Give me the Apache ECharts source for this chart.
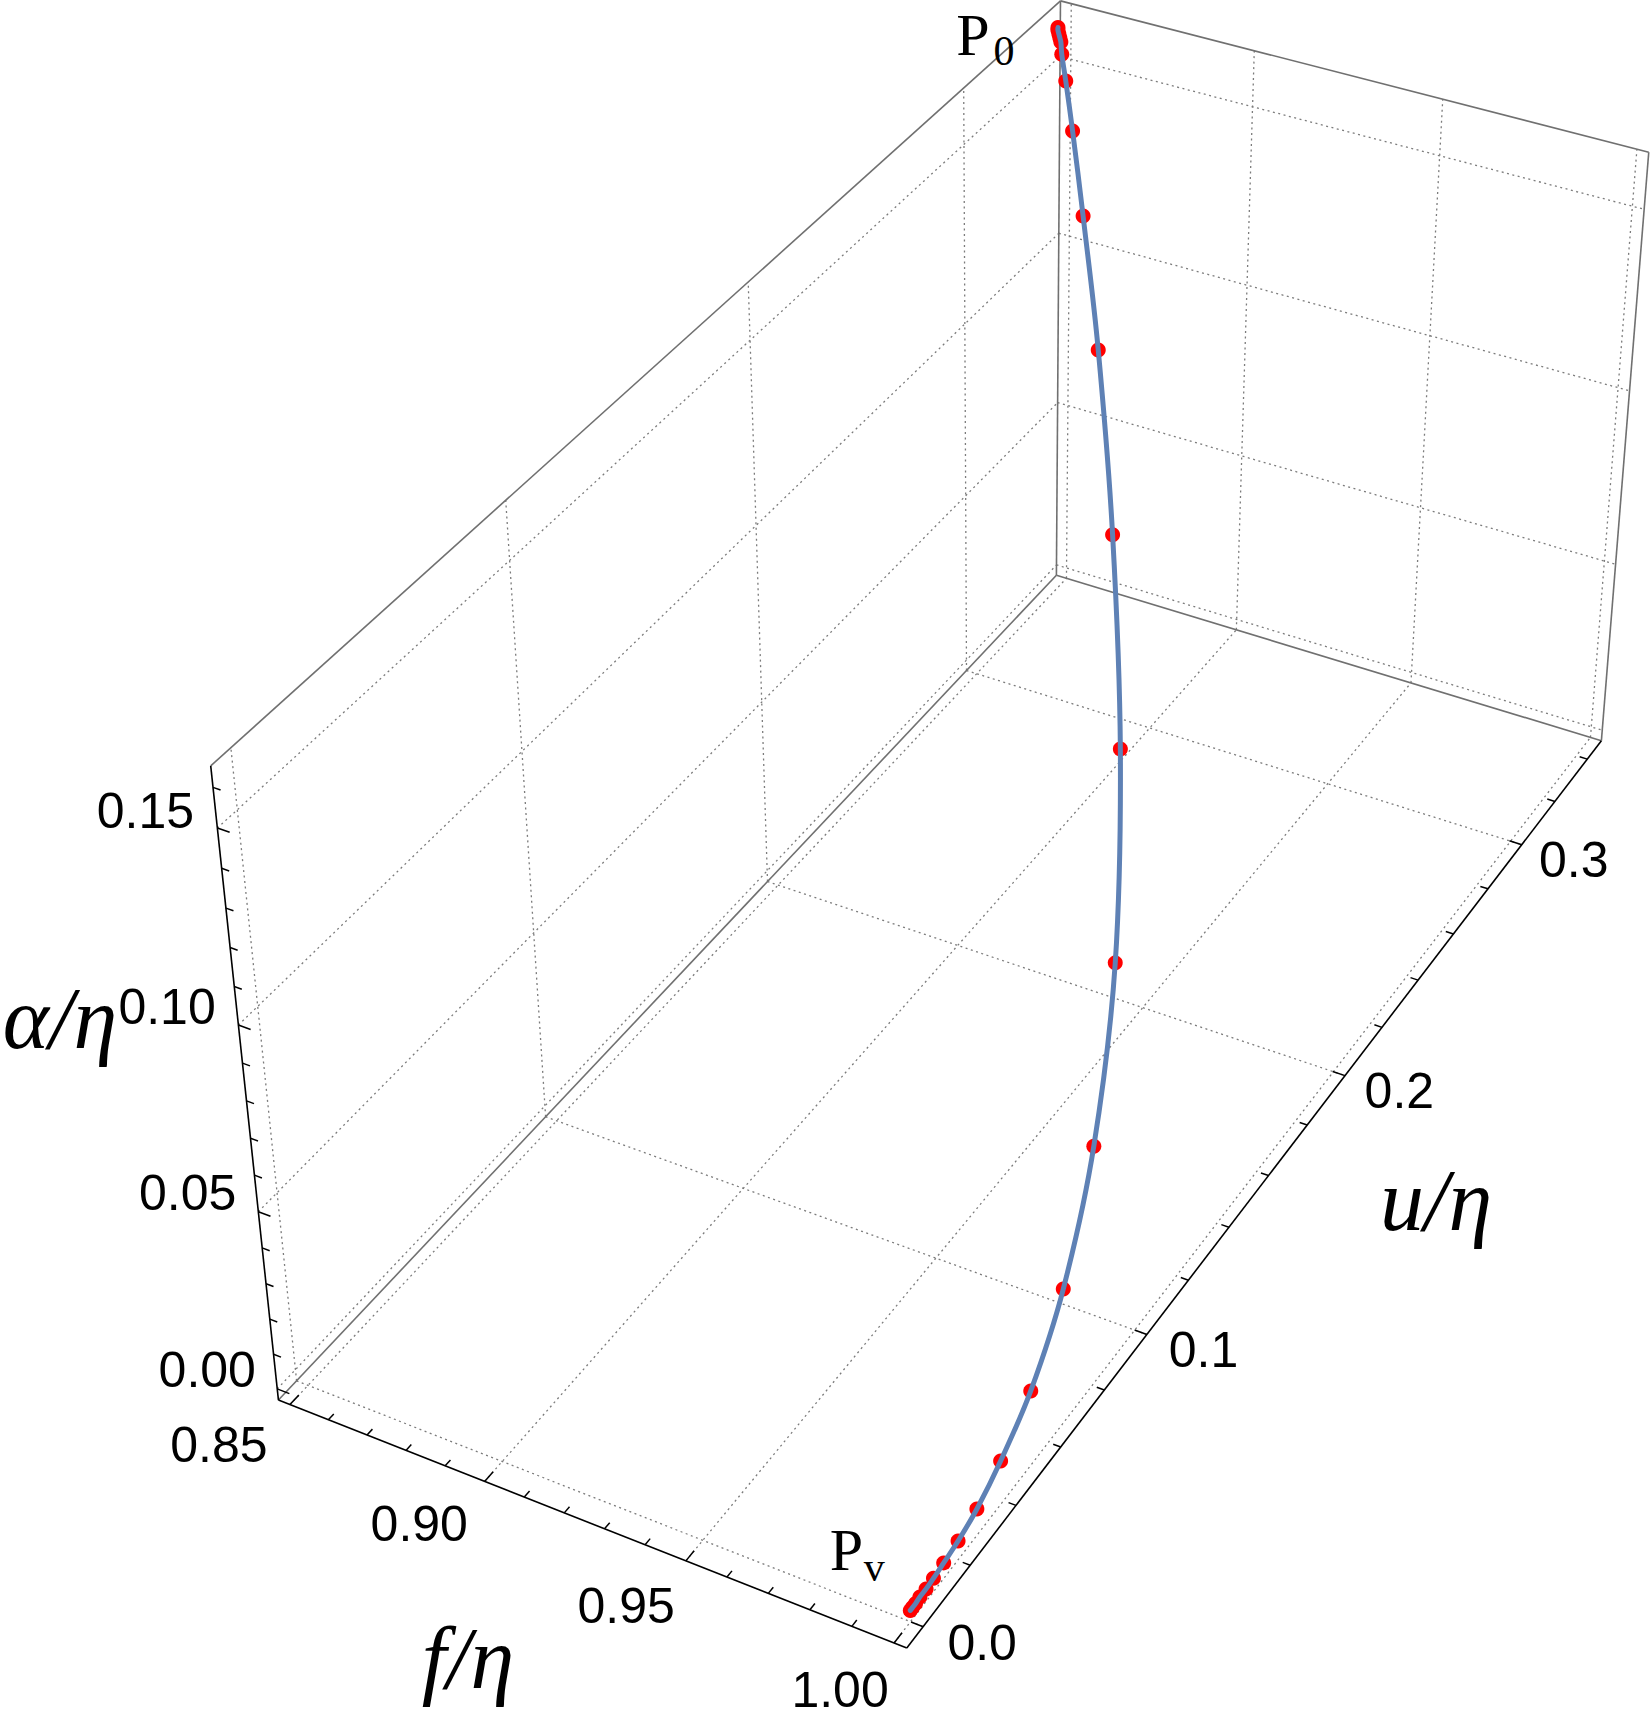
<!DOCTYPE html>
<html>
<head>
<meta charset="utf-8">
<script src="https://cdn.jsdelivr.net/npm/echarts@6.0.0/dist/echarts.min.js"></script>
<style>
html,body{margin:0;padding:0;background:#ffffff;}
#chart{width:1650px;height:1719px;}
</style>
</head>
<body>
<div id="chart"></div>
<script>
// ---------------- data ----------------
const fRange = [0.85, 1.00];
const uRange = [0.00, 0.342];
const aRange = [0.00, 0.162];
const fTicks = [0.85, 0.90, 0.95, 1.00];
const fTickLabels = ['0.85', '0.90', '0.95', '1.00'];
const fMinorTicks = [0.86,0.87,0.88,0.89,0.91,0.92,0.93,0.94,0.96,0.97,0.98,0.99];
const uTicks = [0.0, 0.1, 0.2, 0.3];
const uTickLabels = ['0.0', '0.1', '0.2', '0.3'];
const uMinorTicks = [0.02,0.04,0.06,0.08,0.12,0.14,0.16,0.18,0.22,0.24,0.26,0.28,0.32,0.34];
const aTicks = [0.00, 0.05, 0.10, 0.15];
const aTickLabels = ['0.00', '0.05', '0.10', '0.15'];
const aMinorTicks = [0.01,0.02,0.03,0.04,0.06,0.07,0.08,0.09,0.11,0.12,0.13,0.14,0.16];

// trajectory samples from P0 to Pv  (f/η, u/η, α/η)
const curveF = [0.8500,0.8503,0.8509,0.8515,0.8521,0.8537,0.8574,0.8642,0.8756,0.8930,0.9157,0.9401,0.9620,0.9779,0.9882,0.9940,0.9970,0.9986,0.9993,0.9996,0.9998,0.9999,0.9999,1.0000,1.0000,1.0000];
const curveU = [0.3420,0.3414,0.3408,0.3402,0.3396,0.3371,0.3323,0.3232,0.3074,0.2827,0.2475,0.2056,0.1620,0.1220,0.0886,0.0631,0.0442,0.0309,0.0215,0.0148,0.0101,0.0068,0.0042,0.0022,0.0009,0.0000];
const curveA = [0.1620,0.1617,0.1610,0.1604,0.1597,0.1580,0.1540,0.1466,0.1344,0.1155,0.0910,0.0647,0.0411,0.0238,0.0127,0.0064,0.0033,0.0015,0.0007,0.0004,0.0002,0.0001,0.0001,0.0000,0.0000,0.0000];

// ---------------- layout ----------------
const W = 1650, H = 1719, PAD = 0.02;
// camera calibration: box-normalized corner -> screen position
const boxCal = [[0,0,0,278,1400],[1,0,0,907,1648],[0,1,0,1057,575],[1,1,0,1601,741],[0,0,1,211,766],[0,1,1,1060,1],[1,1,1,1649,152]];
const MAJ = 13, MIN = 8;
const F_OFF = [[-71,40],[-54,47]];
const U_OFF = [[59,16],[52,15]];
const A_OFF = [[-70,-19],[-72,-17]];

const padR = r => [r[0]-PAD*(r[1]-r[0]), r[1]+PAD*(r[1]-r[0])];
const FB = padR(fRange), UB = padR(uRange), AB = padR(aRange);

function solveLinear(M, b){
  const n=b.length, A=M.map((r,i)=>r.slice().concat([b[i]]));
  for(let c=0;c<n;c++){
    let p=c; for(let r=c+1;r<n;r++) if(Math.abs(A[r][c])>Math.abs(A[p][c])) p=r;
    const t=A[c]; A[c]=A[p]; A[p]=t;
    for(let r=0;r<n;r++){ if(r===c) continue; const k=A[r][c]/A[c][c]; for(let j=c;j<=n;j++) A[r][j]-=k*A[c][j]; }
  }
  return A.map((r,i)=>r[n]/r[i]);
}
function fitCamera(cal){
  const R=[], r=[];
  cal.forEach(c=>{ const X=c[0],Y=c[1],Z=c[2],x=c[3]/1000,y=c[4]/1000;
    R.push([X,Y,Z,1,0,0,0,0,-x*X,-x*Y,-x*Z]); r.push(x);
    R.push([0,0,0,0,X,Y,Z,1,-y*X,-y*Y,-y*Z]); r.push(y); });
  const n=11, N=[], b=[];
  for(let i=0;i<n;i++){ N.push(new Array(n).fill(0)); b.push(0); }
  for(let k=0;k<R.length;k++) for(let i=0;i<n;i++){ b[i]+=R[k][i]*r[k]; for(let j=0;j<n;j++) N[i][j]+=R[k][i]*R[k][j]; }
  const p=solveLinear(N,b);
  return [[p[0],p[1],p[2],p[3]],[p[4],p[5],p[6],p[7]],[p[8],p[9],p[10],1]];
}
const CAM = fitCamera(boxCal);
function norm3(f,u,a){ return [(f-FB[0])/(FB[1]-FB[0]),(u-UB[0])/(UB[1]-UB[0]),(a-AB[0])/(AB[1]-AB[0])]; }
function projN(X,Y,Z){ const C=CAM; const w=C[2][0]*X+C[2][1]*Y+C[2][2]*Z+C[2][3];
  return [1000*(C[0][0]*X+C[0][1]*Y+C[0][2]*Z+C[0][3])/w, 1000*(C[1][0]*X+C[1][1]*Y+C[1][2]*Z+C[1][3])/w]; }
function proj(f,u,a){ const n=norm3(f,u,a); return projN(n[0],n[1],n[2]); }

// ---------------- rendering ----------------
const lerp=(a,b,t)=>[a[0]+(b[0]-a[0])*t, a[1]+(b[1]-a[1])*t];
function renderFrame(params, api){
  const ch=[];
  const P=(f,u,a)=>api.coord(proj(f,u,a));
  const seg=(p,q,style)=>ch.push({type:'line',shape:{x1:p[0],y1:p[1],x2:q[0],y2:q[1]},style:style});
  const gridStyle={stroke:'#7c7c7c',lineWidth:1.3,lineDash:[2,3.5]};
  uTicks.forEach(v=>seg(P(FB[0],v,AB[0]),P(FB[0],v,AB[1]),gridStyle));
  aTicks.forEach(v=>seg(P(FB[0],UB[0],v),P(FB[0],UB[1],v),gridStyle));
  fTicks.forEach(v=>seg(P(v,UB[1],AB[0]),P(v,UB[1],AB[1]),gridStyle));
  aTicks.forEach(v=>seg(P(FB[0],UB[1],v),P(FB[1],UB[1],v),gridStyle));
  fTicks.forEach(v=>seg(P(v,UB[0],AB[0]),P(v,UB[1],AB[0]),gridStyle));
  uTicks.forEach(v=>seg(P(FB[0],v,AB[0]),P(FB[1],v,AB[0]),gridStyle));
  const c=(i,j,k)=>P(FB[i],UB[j],AB[k]);
  const boxStyle={stroke:'#707070',lineWidth:1.6};
  [[c(0,0,0),c(0,1,0)],[c(0,1,0),c(1,1,0)],[c(0,1,0),c(0,1,1)],[c(0,0,1),c(0,1,1)],[c(0,1,1),c(1,1,1)],[c(1,1,1),c(1,1,0)]]
    .forEach(e=>seg(e[0],e[1],boxStyle));
  const axStyle={stroke:'#000000',lineWidth:1.6};
  seg(c(0,0,0),c(1,0,0),axStyle); seg(c(1,0,0),c(1,1,0),axStyle); seg(c(0,0,0),c(0,0,1),axStyle);
  const tick=(base,dirPt,len)=>{ const dx=dirPt[0]-base[0], dy=dirPt[1]-base[1], d=Math.hypot(dx,dy);
    seg(base,[base[0]+dx/d*len, base[1]+dy/d*len],{stroke:'#000',lineWidth:1.5}); };
  const du=0.01*(UB[1]-UB[0]), dF=0.01*(FB[1]-FB[0]);
  fTicks.forEach(v=>tick(P(v,UB[0],AB[0]),P(v,UB[0]+du,AB[0]),MAJ));
  fMinorTicks.forEach(v=>tick(P(v,UB[0],AB[0]),P(v,UB[0]+du,AB[0]),MIN));
  uTicks.forEach(v=>tick(P(FB[1],v,AB[0]),P(FB[1]-dF,v,AB[0]),MAJ));
  uMinorTicks.forEach(v=>tick(P(FB[1],v,AB[0]),P(FB[1]-dF,v,AB[0]),MIN));
  aTicks.forEach(v=>tick(P(FB[0],UB[0],v),P(FB[0]+dF,UB[0],v),MAJ));
  aMinorTicks.forEach(v=>tick(P(FB[0],UB[0],v),P(FB[0]+dF,UB[0],v),MIN));
  const tickFont='50px "Liberation Sans", Arial, sans-serif';
  const lab=(pt,text,off)=>ch.push({type:'text',x:pt[0]+off[0],y:pt[1]+off[1],
    style:{text:text,font:tickFont,fill:'#000',align:'center',verticalAlign:'middle'}});
  fTicks.forEach((v,i)=>lab(P(v,UB[0],AB[0]),fTickLabels[i],lerp(F_OFF[0],F_OFF[1],(v-fRange[0])/(fRange[1]-fRange[0]))));
  uTicks.forEach((v,i)=>lab(P(FB[1],v,AB[0]),uTickLabels[i],lerp(U_OFF[0],U_OFF[1],(v-uTicks[0])/(uTicks[3]-uTicks[0]))));
  aTicks.forEach((v,i)=>lab(P(FB[0],UB[0],v),aTickLabels[i],lerp(A_OFF[0],A_OFF[1],(v-aTicks[0])/(aTicks[3]-aTicks[0]))));
  const titleFont='italic 88px "Liberation Serif", "Times New Roman", serif';
  const title=(x,y,t)=>{ const q=api.coord([x,y]); ch.push({type:'text',x:q[0],y:q[1],
    style:{text:t,font:titleFont,fill:'#000',align:'center',verticalAlign:'middle'}}); };
  title(60,1018,'α/η'); title(468,1658,'f/η'); title(1436,1200,'u/η');
  return {type:'group',children:ch};
}
function renderPoint(params, api){
  const q=api.coord(proj(api.value(0),api.value(1),api.value(2)));
  return {type:'circle',shape:{cx:q[0],cy:q[1],r:7.5},style:{fill:'#ff0000'}};
}
function renderCurve(params, api){
  const pts=curveF.map((f,i)=>api.coord(proj(f,curveU[i],curveA[i])));
  return {type:'polyline',shape:{points:pts,smooth:0.35},style:{stroke:'#5E81B5',lineWidth:5,fill:null,lineCap:'round',lineJoin:'round'}};
}
function renderLabels(params, api){
  const n=curveF.length;
  const a=api.coord(proj(curveF[0],curveU[0],curveA[0]));
  const b=api.coord(proj(curveF[n-1],curveU[n-1],curveA[n-1]));
  const big='60px "Liberation Serif", "Times New Roman", serif', sub='42px "Liberation Serif", "Times New Roman", serif';
  const t=(x,y,s,font)=>({type:'text',x:x,y:y,style:{text:s,font:font,fill:'#000',align:'center',verticalAlign:'middle'}});
  return {type:'group',children:[
    t(a[0]-85,a[1]+8,'P',big), t(a[0]-54,a[1]+24,'0',sub),
    t(b[0]-64,b[1]-60,'P',big), t(b[0]-36,b[1]-43,'v',sub)
  ]};
}

const chart=echarts.init(document.getElementById('chart'),null,{renderer:'svg',width:W,height:H});
chart.setOption({
  animation:false,
  backgroundColor:'#ffffff',
  grid:{left:0,right:0,top:0,bottom:0},
  xAxis:{type:'value',min:0,max:W,show:false},
  yAxis:{type:'value',min:0,max:H,inverse:true,show:false},
  series:[
    {type:'custom',name:'frame',data:[[0,0]],renderItem:renderFrame,clip:false,silent:true,z:1},
    {type:'custom',name:'points',data:curveF.map((f,i)=>[f,curveU[i],curveA[i]]),renderItem:renderPoint,clip:false,silent:true,z:2},
    {type:'custom',name:'curve',data:[[0,0]],renderItem:renderCurve,clip:false,silent:true,z:3},
    {type:'custom',name:'labels',data:[[0,0]],renderItem:renderLabels,clip:false,silent:true,z:4}
  ]
});
</script>
</body>
</html>
